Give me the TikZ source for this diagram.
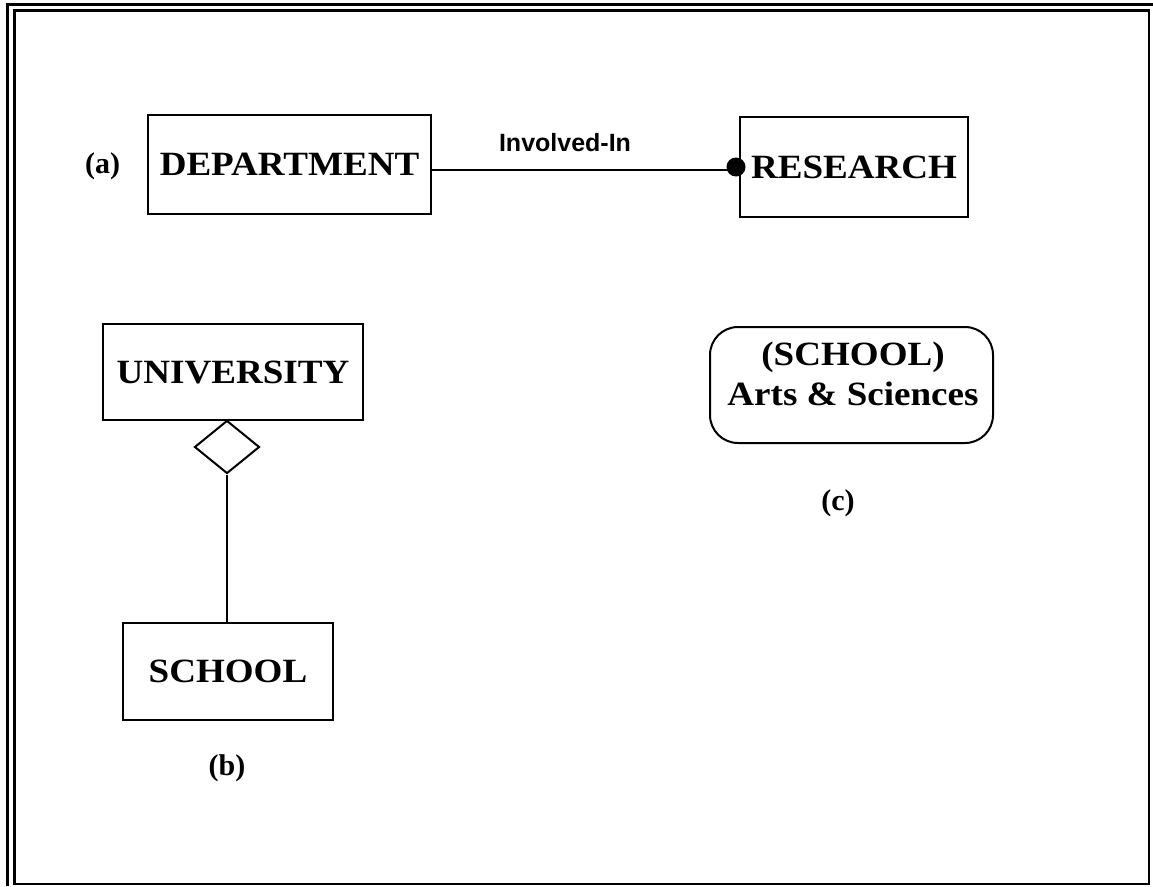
\documentclass[tikz,border=0pt]{standalone}
\usepackage{fontspec}
\setmainfont{Liberation Serif}
\newfontfamily\boxfont[FakeStretch=1.09]{Liberation Serif}
\newfontfamily\relfont{Liberation Sans}
\usetikzlibrary{shapes.geometric,calc}

\tikzset{
  entity/.style={draw, line width=2pt, inner sep=0pt, align=center,
    font=\boxfont\bfseries\fontsize{34}{37}\selectfont},
  boxtext/.style={inner sep=0pt, align=center,
    font=\boxfont\bfseries\fontsize{34}{40}\selectfont},
  tag/.style={inner sep=0pt, font=\bfseries\fontsize{30}{32}\selectfont},
  conn/.style={line width=2pt},
}

\begin{document}
\begin{tikzpicture}[x=1pt, y=-1pt]
  \useasboundingbox (0,0) rectangle (1153,886);

  % outer frame: heavy top/left rule plus the inner rectangle
  \draw[line width=3.5pt] (1153,4.5) -- (7.5,4.5) -- (7.5,886);
  \draw[line width=2.5pt] (14.5,10.5) rectangle (1149,884);

  % (a) relationship with an optional-many end
  \node[tag] (la) at (102.5,166) {(a)};
  \node[entity, minimum width=283pt, minimum height=99pt] (dept) at (289.5,164.5) {DEPARTMENT};
  \node[entity, minimum width=228pt, minimum height=100pt] (res) at (854,167) {RESEARCH};
  \node[circle, fill, inner sep=0pt, minimum size=19pt] (dot) at (736,167) {};
  \path (dept.east) ++(0,5.5) coordinate (dl);
  \draw[conn] (dl) -- (dl -| dot.center);
  \node[inner sep=0pt, font=\relfont\bfseries\fontsize{25}{28}\selectfont] (rel) at (565,143) {Involved-In};

  % (b) aggregation with diamond
  \node[entity, minimum width=260pt, minimum height=96pt] (univ) at (233,372) {UNIVERSITY};
  \node[diamond, draw, line width=2pt, inner sep=0pt, minimum width=65pt, minimum height=53pt] (agg) at (227,447) {};
  \node[entity, minimum width=210pt, minimum height=97pt] (school) at (228,671.5) {SCHOOL};
  \draw[conn] (agg.south) -- (agg.south |- school.north);
  \node[tag] (lb) at (227,768) {(b)};

  % (c) instance of an entity
  \node[draw, line width=2pt, rounded corners=28pt, minimum width=283pt, minimum height=116pt] (inst) at (851.5,385) {};
  \node[boxtext] (insttext) at (853,374) {(SCHOOL)\\Arts \& Sciences};
  \node[tag] (lc) at (838,503) {(c)};
\end{tikzpicture}
\end{document}
